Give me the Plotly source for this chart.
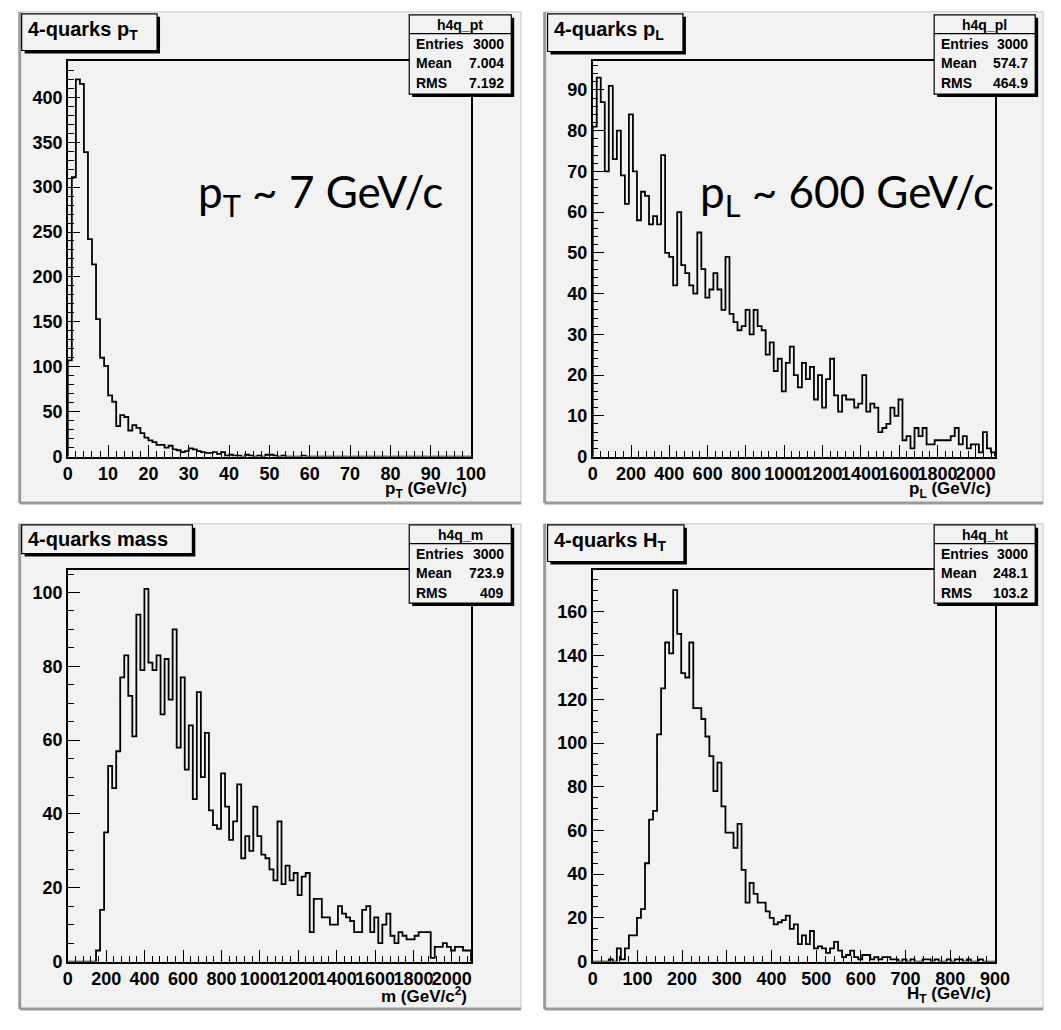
import plotly.graph_objects as go

W, H = 1061, 1030

# bin contents (100 bins each)
pt_counts = [107, 311, 420, 415, 339, 242, 214, 153, 110, 101,
             68, 61, 34, 46, 44, 29, 35, 32, 26, 21,
             18, 16, 13, 13, 10, 12, 8, 7, 5, 6,
             9, 8, 6, 5, 4, 4, 5, 3, 5, 1,
             2, 1, 1, 0, 2, 1, 0, 1, 0, 2,
             2, 1, 0, 1, 0, 0, 0, 0, 1, 0,
             0, 0, 0, 0, 0, 0, 0, 0, 0, 0,
             0, 0, 0, 0, 0, 0, 0, 0, 0, 0,
             0, 0, 0, 0, 0, 0, 0, 0, 0, 0,
             0, 0, 0, 0, 0, 0, 0, 0, 0, 0]

pl_counts = [81, 93, 87, 70, 91, 73, 80, 69, 62, 84,
             70, 58, 65, 64, 57, 59, 57, 74, 50, 49,
             42, 60, 47, 45, 42, 40, 55, 46, 39, 41,
             45, 41, 36, 49, 35, 33, 31, 32, 36, 30,
             36, 32, 31, 25, 28, 21, 24, 16, 23, 27,
             20, 17, 23, 19, 22, 14, 20, 12, 19, 24,
             15, 11, 15, 14, 14, 12, 13, 20, 11, 13,
             12, 6, 7, 8, 12, 10, 14, 4, 5, 2,
             7, 5, 7, 3, 3, 4, 4, 4, 4, 5,
             7, 3, 5, 2, 3, 3, 1, 6, 2, 1]

m_counts = [0, 0, 0, 0, 0, 0, 0, 3, 14, 35,
            53, 47, 57, 77, 83, 72, 61, 94, 79, 101,
            81, 79, 83, 67, 82, 71, 90, 58, 77, 52,
            64, 44, 73, 50, 62, 41, 37, 36, 51, 42,
            33, 38, 48, 28, 34, 30, 42, 34, 29, 28,
            25, 22, 38, 21, 26, 22, 24, 18, 23, 24,
            8, 17, 17, 12, 12, 10, 10, 15, 13, 12,
            11, 8, 8, 14, 15, 8, 12, 5, 10, 13,
            7, 5, 8, 7, 6, 6, 7, 8, 8, 8,
            1, 4, 4, 5, 4, 3, 4, 4, 3, 3]

ht_counts = [0, 0, 0, 0, 1, 0, 6, 1, 6, 12,
             12, 20, 24, 45, 65, 69, 104, 125, 146, 141,
             170, 150, 132, 130, 146, 116, 116, 111, 103, 94,
             78, 91, 71, 59, 59, 52, 63, 42, 27, 36,
             31, 27, 27, 23, 20, 17, 18, 19, 21, 15,
             17, 8, 12, 8, 14, 6, 7, 6, 4, 6,
             9, 5, 2, 3, 5, 2, 1, 3, 3, 1,
             2, 1, 2, 2, 1, 1, 0, 1, 0, 1,
             0, 0, 1, 1, 0, 1, 0, 0, 1, 0,
             1, 1, 0, 1, 0, 0, 1, 0, 0, 0]

hist_names = ['h4q_pt', 'h4q_pl', 'h4q_m', 'h4q_ht']
hist_titles = ['4-quarks p<sub>T</sub>', '4-quarks p<sub>L</sub>',
               '4-quarks mass', '4-quarks H<sub>T</sub>']
x_titles = ['p<sub>T</sub> (GeV/c)', 'p<sub>L</sub> (GeV/c)',
            'm (GeV/c<sup>2</sup>)', 'H<sub>T</sub> (GeV/c)']
entries = ['3000', '3000', '3000', '3000']
means = ['7.004', '574.7', '723.9', '248.1']
rms = ['7.192', '464.9', '409', '103.2']
x_ranges = [(0, 100), (0, 2100), (0, 2100), (0, 900)]
y_tops = [440, 97, 106, 179]
big_labels = ['p<sub>T</sub> ~ 7 GeV/c', 'p<sub>L</sub> ~ 600 GeV/c']

PAD = '#f2f2f2'
BOLD = 'Liberation Sans'


def px(x):
    return x / W


def py(y):
    return 1 - y / H


def step_xy(counts, lo, hi):
    w = (hi - lo) / len(counts)
    xs = [lo] + [lo + i * w for i in range(len(counts))] + [hi, hi]
    ys = [0] + list(counts) + [counts[-1], 0]
    return xs, ys


shapes = []
annotations = []


def rect(x0, y0, x1, y1, **kw):
    shapes.append(dict(type='rect', xref='paper', yref='paper',
                       x0=px(x0), x1=px(x1), y0=py(y1), y1=py(y0), **kw))


def hline(x0, x1, y, color='black', width=1.2):
    shapes.append(dict(type='line', xref='paper', yref='paper',
                       x0=px(x0), x1=px(x1), y0=py(y), y1=py(y),
                       line=dict(color=color, width=width)))


def vline(x, y0, y1, color='black', width=1.2):
    shapes.append(dict(type='line', xref='paper', yref='paper',
                       x0=px(x), x1=px(x), y0=py(y0), y1=py(y1),
                       line=dict(color=color, width=width)))


def text(x, y, s, size, xanchor='left', family=BOLD, weight='bold'):
    annotations.append(dict(xref='paper', yref='paper', x=px(x), y=py(y),
                            text=s, showarrow=False, xanchor=xanchor,
                            yanchor='middle',
                            font=dict(family=family, size=size, color='black',
                                      weight=weight)))


def shadow_box(x0, y0, x1, y1):
    rect(x0 + 3, y0 + 3, x1 + 3, y1 + 3, fillcolor='black',
         line=dict(width=0), layer='above')
    rect(x0, y0, x1, y1, fillcolor=PAD,
         line=dict(color='black', width=1.2), layer='above')


# pad layout: (pad box, frame box, title box, stats box)
pads = [(15, 12, 526, 508), (550, 12, 1058, 508),
        (15, 529, 526, 1019), (550, 529, 1058, 1019)]
frames = [(64, 62, 475, 461), (599, 62, 1009, 461),
          (64, 576, 475, 971), (599, 576, 1009, 971)]
title_boxes = [(17, 14, 155, 51), (553, 14, 691, 52),
               (17, 530, 191, 559), (553, 530, 692, 567)]
stat_boxes = [(412, 15, 516, 95), (947, 15, 1050, 95),
              (412, 530, 516, 609), (947, 530, 1050, 609)]
x_ticks = [(10, 2), (200, 40), (200, 40), (100, 20)]
y_ticks = [(50, 10), (10, 2), (20, 5), (20, 5)]

fig = go.Figure()
counts_all = [pt_counts, pl_counts, m_counts, ht_counts]

for i in range(4):
    n = '' if i == 0 else str(i + 1)
    lo, hi = x_ranges[i]
    xs, ys = step_xy(counts_all[i], lo, hi)
    fig.add_trace(go.Scatter(
        x=xs, y=ys, mode='lines', xaxis='x' + n, yaxis='y' + n,
        line=dict(color='black', width=1.8, shape='hv'),
        hoverinfo='skip', showlegend=False))

    fx0, fy0, fx1, fy1 = frames[i]
    axis_common = dict(showline=True, linecolor='black', linewidth=1.5,
                       mirror=True, showgrid=False, zeroline=False,
                       ticks='inside', ticklen=12, tickwidth=1.3,
                       tickcolor='black', tickmode='linear', tickangle=0,
                       tickfont=dict(family=BOLD, size=18, color='black',
                                     weight='bold'))
    fig.update_layout(**{
        'xaxis' + n: dict(axis_common, domain=[px(fx0), px(fx1)],
                          anchor='y' + n, range=[lo, hi], tick0=0,
                          dtick=x_ticks[i][0],
                          minor=dict(dtick=x_ticks[i][1], ticks='inside',
                                     ticklen=6, tickwidth=1.2,
                                     tickcolor='black', showgrid=False)),
        'yaxis' + n: dict(axis_common, domain=[py(fy1), py(fy0)],
                          anchor='x' + n, range=[0, y_tops[i]], tick0=0,
                          dtick=y_ticks[i][0],
                          minor=dict(dtick=y_ticks[i][1], ticks='inside',
                                     ticklen=6, tickwidth=1.2,
                                     tickcolor='black', showgrid=False)),
    })

    # pad background with bevelled border
    x0, y0, x1, y1 = pads[i]
    rect(x0, y0, x1, y1, fillcolor=PAD, line=dict(color='#c4c4c4', width=1),
         layer='below')
    vline(x0, y0, y1, color='#9a9a9a', width=3)
    hline(x0, x1, y1, color='#9a9a9a', width=3)

    # title box
    tx0, ty0, tx1, ty1 = title_boxes[i]
    shadow_box(tx0, ty0, tx1, ty1)
    text(tx0 + 4, (ty0 + ty1) / 2 - (2 if i in (0, 1, 3) else 0),
         hist_titles[i], 20)

    # statistics box
    sx0, sy0, sx1, sy1 = stat_boxes[i]
    shadow_box(sx0, sy0, sx1, sy1)
    hline(sx0, sx1, sy0 + 19)
    text((sx0 + sx1) / 2, sy0 + 10, hist_names[i], 14, xanchor='center')
    for j, (lab, val) in enumerate(zip(['Entries', 'Mean', 'RMS'],
                                       [entries[i], means[i], rms[i]])):
        yy = sy0 + 29 + 20 * j
        text(sx0 + 5, yy, lab, 14)
        text(sx1 - 5, yy, val, 14, xanchor='right')

    # x axis title, below the tick labels at the right end
    text(fx1 - 2, fy1 + 34, x_titles[i], 17, xanchor='right')

# large hand-written remarks on the upper pads
text(322, 196, big_labels[0], 44, xanchor='center', family='Lato',
     weight='normal')
text(858, 196, big_labels[1], 44, xanchor='center', family='Lato',
     weight='normal')

fig.update_layout(
    width=W, height=H,
    margin=dict(l=0, r=0, t=0, b=0),
    paper_bgcolor='white',
    plot_bgcolor='rgba(0,0,0,0)',
    shapes=shapes,
    annotations=annotations,
)

# drop the browser's default page margin and scrollbars so the pixel layout
# lines up with the window
page_fix = ("document.body.style.margin='0';"
            "document.body.style.overflow='hidden';"
            "document.documentElement.style.overflow='hidden';")
fig.write_html('out.html', config={'displayModeBar': False},
               post_script=page_fix)
